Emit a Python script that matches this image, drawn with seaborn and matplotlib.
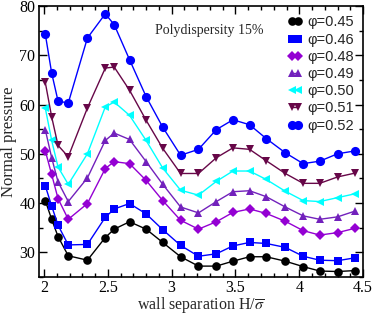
import matplotlib
matplotlib.use("Agg")
import matplotlib.pyplot as plt
import seaborn as sns
import pandas as pd
from matplotlib.ticker import MultipleLocator

sns.set_theme(style="ticks")
plt.rcParams['font.family'] = ['Liberation Serif', 'DejaVu Serif']
plt.rcParams['mathtext.fontset'] = 'stix'

H = [2.01, 2.06, 2.11, 2.19, 2.34, 2.48, 2.55, 2.67, 2.80, 2.93, 3.07,
     3.21, 3.35, 3.48, 3.61, 3.74, 3.89, 4.03, 4.16, 4.30, 4.44]

p045 = [40.5, 36.7, 33.2, 29.3, 28.4, 33.0, 34.7, 36.2, 34.7, 32.0, 29.1,
        27.2, 27.2, 28.2, 29.1, 29.1, 28.2, 27.1, 26.2, 26.1, 26.3]
p046 = [43.5, 39.4, 35.5, 31.5, 31.6, 37.1, 38.8, 39.9, 37.8, 34.6, 31.4,
        29.2, 29.7, 31.3, 32.0, 31.8, 31.0, 29.2, 28.4, 28.3, 28.9]
p048 = [50.6, 45.8, 40.9, 36.7, 39.9, 47.0, 48.4, 48.0, 44.6, 40.5, 36.5,
        34.7, 36.2, 38.1, 38.8, 37.9, 36.3, 34.4, 33.5, 34.0, 34.9]
p049 = [54.9, 49.2, 44.3, 40.3, 45.1, 52.7, 54.2, 52.9, 48.4, 43.8, 39.2,
        38.0, 40.3, 42.3, 42.5, 41.3, 39.2, 37.4, 36.7, 37.2, 38.4]
p050 = [59.3, 52.7, 47.3, 43.8, 50.0, 59.5, 60.5, 57.8, 52.7, 47.1, 42.6,
        41.6, 44.4, 46.5, 46.5, 44.8, 42.4, 40.5, 40.3, 41.1, 41.9]
p051 = [64.5, 57.5, 51.7, 49.4, 59.3, 67.4, 67.6, 62.9, 56.8, 51.1, 46.0,
        46.0, 49.2, 51.2, 50.9, 48.6, 46.0, 44.0, 44.0, 45.3, 46.1]
p052 = [74.3, 66.4, 60.7, 60.3, 73.5, 78.4, 76.2, 69.1, 61.6, 55.4, 49.7,
        50.9, 54.9, 56.9, 55.9, 53.1, 50.2, 48.0, 48.5, 50.0, 50.6]

labels = ["φ=0.45", "φ=0.46", "φ=0.48", "φ=0.49", "φ=0.50", "φ=0.51", "φ=0.52"]
series = [p045, p046, p048, p049, p050, p051, p052]
colors = ["#000000", "#0000ff", "#9400d3", "#7221bc", "#00ffff", "#670748", "#0000ff"]
markers = ["o", "s", "D", "^", "<", "v", "o"]
msizes = [6.2, 5.6, 4.6, 6.0, 6.0, 6.0, 6.6]

fig = plt.figure(figsize=(3.74, 3.14), dpi=100)
ax = fig.add_axes([0.104, 0.118, 0.867, 0.863])

for lab, vals, c, m, ms in zip(labels, series, colors, markers, msizes):
    df = pd.DataFrame({"H": H, "P": vals})
    sns.lineplot(data=df, x="H", y="P", ax=ax, color=c, marker=m,
                 markersize=ms, markeredgewidth=0, linewidth=1.0,
                 label=lab, legend=False)

ax.set_xlim(1.96, 4.5)
ax.set_ylim(25, 80)
ax.xaxis.set_major_locator(MultipleLocator(0.5))
ax.xaxis.set_minor_locator(MultipleLocator(0.1))
ax.yaxis.set_major_locator(MultipleLocator(10))
ax.yaxis.set_minor_locator(MultipleLocator(5))
ax.set_xticks([2, 2.5, 3, 3.5, 4, 4.5])
ax.set_xticklabels(["2", "2.5", "3", "3.5", "4", "4.5"])
ax.tick_params(which="both", direction="in", top=True, right=True,
               labelsize=11.5, width=1.0, colors="black", pad=2.5)
ax.tick_params(which="major", length=6)
ax.tick_params(which="minor", length=3)
for s in ax.spines.values():
    s.set_linewidth(1.2)
    s.set_color("black")

ax.set_xlabel(r"wall separation H/$\overline{\sigma}$", fontsize=11.5, labelpad=-1)
ax.set_ylabel("Normal pressure", fontsize=12, labelpad=2)

ax.text(0.358, 0.908, "Polydispersity 15%", transform=ax.transAxes,
        fontsize=10, ha="left", va="center")

leg = ax.legend(loc="upper right", frameon=False, numpoints=2,
                handlelength=1.0, handletextpad=0.3, labelspacing=0.22,
                borderaxespad=0.25, prop={"family": "Liberation Sans", "size": 10.5})

fig.savefig("out.png", dpi=100)
